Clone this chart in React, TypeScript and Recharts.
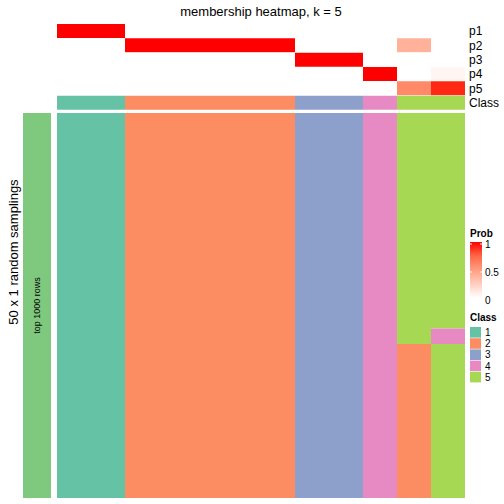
import { BarChart, Bar, XAxis, YAxis, Cell, LabelList } from 'recharts';

// columns = samples, sorted by class
const samples = ['s1', 's2', 's3', 's4', 's5', 's6', 's7', 's8', 's9', 's10', 's11', 's12'];
const probP1 = [1, 1, 0, 0, 0, 0, 0, 0, 0, 0, 0, 0];
const probP2 = [0, 0, 1, 1, 1, 1, 1, 0, 0, 0, 0.4, 0];
const probP3 = [0, 0, 0, 0, 0, 0, 0, 1, 1, 0, 0, 0];
const probP4 = [0, 0, 0, 0, 0, 0, 0, 0, 0, 1, 0, 0.05];
const probP5 = [0, 0, 0, 0, 0, 0, 0, 0, 0, 0, 0.6, 0.95];
const sampleClass = [1, 1, 2, 2, 2, 2, 2, 3, 3, 4, 5, 5];
const rowLabels = ['p1', 'p2', 'p3', 'p4', 'p5', 'Class'];

// 50 random samplings, each column split into up to 3 runs of classes
const seg1Class = [1, 1, 2, 2, 2, 2, 2, 3, 3, 4, 5, 5];
const seg1Rows = [50, 50, 50, 50, 50, 50, 50, 50, 50, 50, 30, 28];
const seg2Class = [0, 0, 0, 0, 0, 0, 0, 0, 0, 0, 2, 4];
const seg2Rows = [0, 0, 0, 0, 0, 0, 0, 0, 0, 0, 20, 2];
const seg3Class = [0, 0, 0, 0, 0, 0, 0, 0, 0, 0, 0, 5];
const seg3Rows = [0, 0, 0, 0, 0, 0, 0, 0, 0, 0, 0, 20];

const classLegend = ['1', '2', '3', '4', '5'];
const probTicks = [1, 0.5, 0];

const CLASS_COLORS = ['#66C2A5', '#FC8D62', '#8DA0CB', '#E78AC3', '#A6D854'];
const FONT = '"Liberation Sans", Arial, sans-serif';

// white -> red in LAB space
const toLin = (c: number) => (c <= 0.04045 ? c / 12.92 : ((c + 0.055) / 1.055) ** 2.4);
const fromLin = (c: number) => (c <= 0.0031308 ? 12.92 * c : 1.055 * c ** (1 / 2.4) - 0.055);
const W = [0.95047, 1, 1.08883];
const f = (t: number) => (t > 0.008856 ? Math.cbrt(t) : 7.787 * t + 16 / 116);
const finv = (t: number) => (t ** 3 > 0.008856 ? t ** 3 : (t - 16 / 116) / 7.787);

function rgbToLab(r: number, g: number, b: number) {
    const R = toLin(r / 255), G = toLin(g / 255), B = toLin(b / 255);
    const X = (0.4124 * R + 0.3576 * G + 0.1805 * B) / W[0];
    const Y = (0.2126 * R + 0.7152 * G + 0.0722 * B) / W[1];
    const Z = (0.0193 * R + 0.1192 * G + 0.9505 * B) / W[2];
    return [116 * f(Y) - 16, 500 * (f(X) - f(Y)), 200 * (f(Y) - f(Z))];
}

function labToHex(L: number, a: number, b: number) {
    const fy = (L + 16) / 116;
    const X = finv(fy + a / 500) * W[0];
    const Y = finv(fy) * W[1];
    const Z = finv(fy - b / 200) * W[2];
    const R = 3.2406 * X - 1.5372 * Y - 0.4986 * Z;
    const G = -0.9689 * X + 1.8758 * Y + 0.0415 * Z;
    const B = 0.0557 * X - 0.204 * Y + 1.057 * Z;
    const h = (v: number) => {
        const n = Math.round(Math.min(1, Math.max(0, fromLin(v))) * 255);
        return n.toString(16).padStart(2, '0');
    };
    return `#${h(R)}${h(G)}${h(B)}`;
}

const WHITE = rgbToLab(255, 255, 255);
const RED = rgbToLab(255, 0, 0);
const probColor = (p: number) =>
    labToHex(
        WHITE[0] + (RED[0] - WHITE[0]) * p,
        WHITE[1] + (RED[1] - WHITE[1]) * p,
        WHITE[2] + (RED[2] - WHITE[2]) * p
    );

const probRows = [probP1, probP2, probP3, probP4, probP5];

// top annotation: one row per label, every sample has width 1
const annotData = rowLabels.map((label) => {
    const row: Record<string, string | number> = { label };
    samples.forEach((s) => (row[s] = 1));
    return row;
});

const bodyData = samples.map((sample, i) => ({
    sample,
    seg1: seg1Rows[i],
    seg2: seg2Rows[i],
    seg3: seg3Rows[i],
}));

const segs = [
    { key: 'seg1', cls: seg1Class },
    { key: 'seg2', cls: seg2Class },
    { key: 'seg3', cls: seg3Class },
];

const sideData = [{ name: 'top 1000 rows', value: 1 }];

const SideLabel = (props: any) => {
    const cx = props.x + props.width / 2;
    const cy = props.y + props.height / 2;
    return (
        <text
            x={cx}
            y={cy}
            transform={`rotate(-90, ${cx}, ${cy})`}
            textAnchor="middle"
            dominantBaseline="central"
            fontSize={9}
            fontFamily={FONT}
            fill="#000"
        >
            {props.value}
        </text>
    );
};

export default function App() {
    return (
        <div style={{ position: 'absolute', left: 0, top: 0, width: 504, height: 504, background: '#fff', fontFamily: FONT }}>
            {/* titles and legends */}
            <svg width={504} height={504} style={{ position: 'absolute', left: 0, top: 0 }}>
                <defs>
                    <linearGradient id="probGrad" x1="0" y1="0" x2="0" y2="1">
                        {[0, 0.25, 0.5, 0.75, 1].map((o) => (
                            <stop key={o} offset={o} stopColor={probColor(1 - o)} />
                        ))}
                    </linearGradient>
                </defs>
                <text x={261} y={16} textAnchor="middle" fontSize={13} fontFamily={FONT}>
                    membership heatmap, k = 5
                </text>
                <text
                    x={13}
                    y={252}
                    transform="rotate(-90, 13, 252)"
                    textAnchor="middle"
                    dominantBaseline="central"
                    fontSize={13}
                    fontFamily={FONT}
                >
                    50 x 1 random samplings
                </text>

                <text x={470} y={237} fontSize={10} fontWeight="bold" fontFamily={FONT}>Prob</text>
                <rect x={470} y={242} width={12} height={56} fill="url(#probGrad)" />
                {probTicks.map((t) => {
                    const y = 242 + (1 - t) * 56;
                    return (
                        <g key={t}>
                            {t > 0 && <line x1={470} x2={472} y1={y + 2} y2={y + 2} stroke="#fff" />}
                            {t > 0 && <line x1={480} x2={482} y1={y + 2} y2={y + 2} stroke="#fff" />}
                            <text x={485} y={y + 2} dominantBaseline="central" fontSize={10} fontFamily={FONT}>
                                {t}
                            </text>
                        </g>
                    );
                })}

                <text x={470} y={321} fontSize={10} fontWeight="bold" fontFamily={FONT}>Class</text>
                {classLegend.map((c, i) => (
                    <g key={c}>
                        <rect x={470} y={327 + i * 11.2} width={11} height={10.6} fill={CLASS_COLORS[i]} />
                        <text x={485} y={332.5 + i * 11.2} dominantBaseline="central" fontSize={10} fontFamily={FONT}>
                            {c}
                        </text>
                    </g>
                ))}
            </svg>

            {/* top annotation: p1..p5 and Class */}
            <div style={{ position: 'absolute', left: 57, top: 24 }}>
                <BarChart
                    width={447}
                    height={86}
                    data={annotData}
                    layout="vertical"
                    barCategoryGap={0}
                    margin={{ top: 0, right: 0, bottom: 0, left: 0 }}
                >
                    <XAxis type="number" hide domain={[0, samples.length]} />
                    <YAxis
                        type="category"
                        dataKey="label"
                        orientation="right"
                        width={39}
                        axisLine={false}
                        tickLine={false}
                        tickSize={0}
                        tickMargin={4}
                        interval={0}
                        tick={{ fill: '#000', fontSize: 12, fontFamily: FONT, textAnchor: 'start' }}
                    />
                    {samples.map((s, i) => (
                        <Bar key={s} dataKey={s} stackId="a" isAnimationActive={false}>
                            {rowLabels.map((label, r) => (
                                <Cell
                                    key={label}
                                    fill={r < 5 ? probColor(probRows[r][i]) : CLASS_COLORS[sampleClass[i] - 1]}
                                />
                            ))}
                        </Bar>
                    ))}
                </BarChart>
            </div>

            {/* left bar */}
            <div style={{ position: 'absolute', left: 23, top: 113 }}>
                <BarChart
                    width={28}
                    height={385}
                    data={sideData}
                    barCategoryGap={0}
                    margin={{ top: 0, right: 0, bottom: 0, left: 0 }}
                >
                    <XAxis dataKey="name" hide />
                    <YAxis hide domain={[0, 1]} />
                    <Bar dataKey="value" fill="#7FC97F" isAnimationActive={false}>
                        <LabelList dataKey="name" content={SideLabel} />
                    </Bar>
                </BarChart>
            </div>

            {/* main body: class of each sample in each sampling */}
            <div style={{ position: 'absolute', left: 57, top: 113 }}>
                <BarChart
                    width={408}
                    height={385}
                    data={bodyData}
                    barCategoryGap={0}
                    margin={{ top: 0, right: 0, bottom: 0, left: 0 }}
                >
                    <XAxis dataKey="sample" hide />
                    <YAxis hide domain={[0, 50]} reversed />
                    {segs.map((sg) => (
                        <Bar key={sg.key} dataKey={sg.key} stackId="a" isAnimationActive={false}>
                            {samples.map((s, i) => (
                                <Cell key={s} fill={sg.cls[i] > 0 ? CLASS_COLORS[sg.cls[i] - 1] : 'none'} />
                            ))}
                        </Bar>
                    ))}
                </BarChart>
            </div>
        </div>
    );
}
